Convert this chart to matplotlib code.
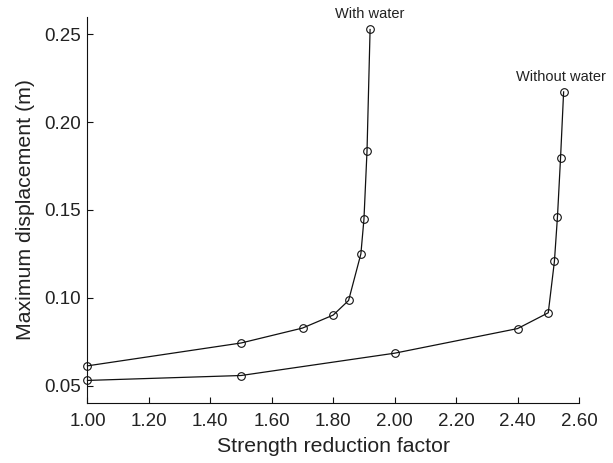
import matplotlib
matplotlib.use("Agg")
import matplotlib.pyplot as plt

plt.rcParams['font.family'] = ['Liberation Sans', 'DejaVu Sans']

# strength reduction factor vs. max displacement
with_water_x = [1.00, 1.50, 1.70, 1.80, 1.85, 1.89, 1.90, 1.91, 1.92]
with_water_y = [0.0613, 0.0743, 0.0828, 0.0902, 0.0985, 0.1250, 0.1447, 0.1836, 0.2527]

without_water_x = [1.00, 1.50, 2.00, 2.40, 2.50, 2.52, 2.53, 2.54, 2.55]
without_water_y = [0.0530, 0.0558, 0.0685, 0.0825, 0.0915, 0.1207, 0.1462, 0.1796, 0.2172]

x_ticks = [1.00, 1.20, 1.40, 1.60, 1.80, 2.00, 2.20, 2.40, 2.60]
y_ticks = [0.05, 0.10, 0.15, 0.20, 0.25]

fig = plt.figure(figsize=(6.13, 4.63), dpi=100)
ax = fig.add_axes([0.1427, 0.129, 0.8018, 0.835])

style = dict(color="#111111", linewidth=0.9, marker="o", markersize=5.5,
             markerfacecolor="none", markeredgewidth=0.8, clip_on=False)
ax.plot(with_water_x, with_water_y, **style)
ax.plot(without_water_x, without_water_y, **style)

ax.annotate("With water", (with_water_x[-1], with_water_y[-1]),
            xytext=(0, 6), textcoords="offset points",
            ha="center", va="bottom", fontsize=10.5, color="#222222")
ax.annotate("Without water", (without_water_x[-1], without_water_y[-1]),
            xytext=(-2, 6), textcoords="offset points",
            ha="center", va="bottom", fontsize=10.5, color="#222222")

ax.set_xlim(1.0, 2.6)
ax.set_ylim(0.04, 0.26)
ax.set_xticks(x_ticks)
ax.set_xticklabels(["{:.2f}".format(v) for v in x_ticks])
ax.set_yticks(y_ticks)
ax.set_yticklabels(["{:.2f}".format(v) for v in y_ticks])

for s in ["top", "right"]:
    ax.spines[s].set_visible(False)
for s in ["left", "bottom"]:
    ax.spines[s].set_linewidth(0.8)
    ax.spines[s].set_color("#111111")

ax.tick_params(direction="in", length=4, width=0.8, labelsize=13.5,
               colors="#111111", labelcolor="#222222")
ax.tick_params(axis="x", pad=7)
ax.tick_params(axis="y", pad=5)
ax.set_xlabel("Strength reduction factor", fontsize=15.3, labelpad=5, color="#222222")
ax.set_ylabel("Maximum displacement (m)", fontsize=15.3, labelpad=6, color="#222222")

fig.savefig("out.png", dpi=100)
